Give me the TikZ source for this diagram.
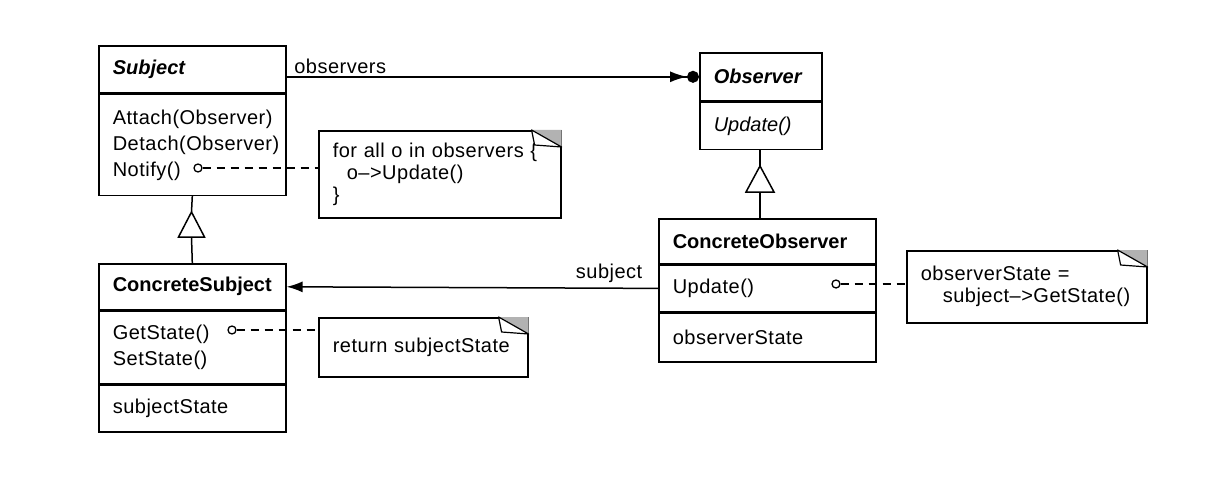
\documentclass[tikz,border=0pt]{standalone}
\usepackage{fontspec}
\setmainfont[UprightFeatures={LetterSpace=2.5}]{Liberation Sans}
\usetikzlibrary{arrows.meta,positioning}

\newcommand\umlfont{\fontsize{20}{26}\selectfont}
\newcommand\notefont{\fontsize{20}{22}\selectfont}
% folded corner of a note
\newcommand\dogear[1]{%
  \fill[black!30] (#1.north east) -- ++(-30,0) -- ++(30,17) -- cycle;
  \draw[fill=white, line width=1.2pt, line join=round] (#1.north east) ++(-30,0) -- ++(3,15) -- ++(27,2) -- cycle;
}

\begin{document}
\begin{tikzpicture}[x=1pt, y=-1pt]
    \tikzset{
        cls/.style = {draw, line width=1.6pt, anchor=north west, inner xsep=14pt, inner ysep=0pt, align=left, font=\umlfont},
        note/.style = {draw, line width=1.6pt, anchor=north west, inner xsep=14pt, inner ysep=0pt, align=left, font=\notefont},
        dot/.style = {circle, draw, line width=1.3pt, minimum size=8pt, inner sep=0pt},
        dashline/.style = {line width=1.1pt, dash pattern=on 8pt off 6pt},
        link/.style = {line width=1.5pt},
        lbl/.style = {font=\umlfont, inner sep=2pt}
    }
    \useasboundingbox (0,0) rectangle (1205,500);

    % classes
    \node[cls, text width=159pt, minimum height=47pt, font=\umlfont\bfseries\itshape] (subject) at (98,45) {Subject};
    \node[cls, text width=159pt, minimum height=101pt, below=0pt of subject] (subjectops) {Attach(Observer)\\Detach(Observer)\\Notify()};

    \node[cls, text width=159pt, minimum height=46pt, font=\umlfont\bfseries] (csubject) at (98,263) {ConcreteSubject};
    \node[cls, text width=159pt, minimum height=72pt, below=0pt of csubject] (csubjectops) {GetState()\\SetState()};
    \node[cls, text width=159pt, minimum height=47pt, below=0pt of csubjectops] (csubjectattr) {subjectState};

    \node[cls, text width=94pt, minimum height=48pt, font=\umlfont\bfseries\itshape] (observer) at (699,52) {Observer};
    \node[cls, text width=94pt, minimum height=47pt, below=0pt of observer, font=\umlfont\itshape] (observerops) {Update()};

    \node[cls, text width=189pt, minimum height=45pt, font=\umlfont\bfseries] (cobserver) at (658,218) {ConcreteObserver};
    \node[cls, text width=189pt, minimum height=46pt, below=0pt of cobserver] (cobserverops) {Update()};
    \node[cls, text width=189pt, minimum height=49pt, below=0pt of cobserverops] (cobserverattr) {observerState};

    % notes
    \node[note, text width=214pt, minimum height=87pt] (notifynote) at (318,130) {\mbox{for all o in observers \{}\\\hspace*{14pt}\mbox{o-->Update()}\\\}};
    \node[note, text width=181pt, minimum height=59pt] (getnote) at (318,317) {return subjectState};
    \node[note, text width=212pt, minimum height=72pt] (updatenote) at (906,250) {\mbox{observerState =}\\\hspace*{22pt}\mbox{subject-->GetState()}};
    \dogear{notifynote}
    \dogear{getnote}
    \dogear{updatenote}

    % note anchors
    \node[dot] (notifydot) at (198,168) {};
    \node[dot] (getdot) at (232,330) {};
    \node[dot] (updatedot) at (836,284) {};
    \draw[dashline] (notifydot) -- (notifydot -| notifynote.west);
    \draw[dashline] (getdot) -- (getdot -| getnote.west);
    \draw[dashline] (updatedot) -- (updatedot -| updatenote.west);

    % associations
    \draw[link, -{Latex[length=17pt,width=11pt] Circle[length=12pt]}] (observer.west -| subject.east) -- (observer.west)
        node[lbl, at start, anchor=south west, xshift=5pt] {observers};
    \draw[link, -{Latex[length=16pt,width=11pt]}] (cobserverops.west) -- (csubject.east)
        node[lbl, at start, anchor=south east, xshift=-13pt, yshift=3pt] {subject};

    % generalizations
    \coordinate (subjtri) at (191.5,212);
    \coordinate (subjbase) at (191.5,237);
    \draw[link, line join=miter] (subjtri) -- ++(-13,25) -- ++(26,0) -- cycle;
    \draw[link] (subjectops.south) -- (subjtri);
    \draw[link] (subjbase) -- (csubject.north);

    \coordinate (obstri) at (760,166);
    \coordinate (obsbase) at (760,192);
    \draw[link, line join=miter] (obstri) -- ++(-14,26) -- ++(28,0) -- cycle;
    \draw[link] (obstri |- observerops.south) -- (obstri);
    \draw[link] (obsbase) -- (obsbase |- cobserver.north);
\end{tikzpicture}
\end{document}
